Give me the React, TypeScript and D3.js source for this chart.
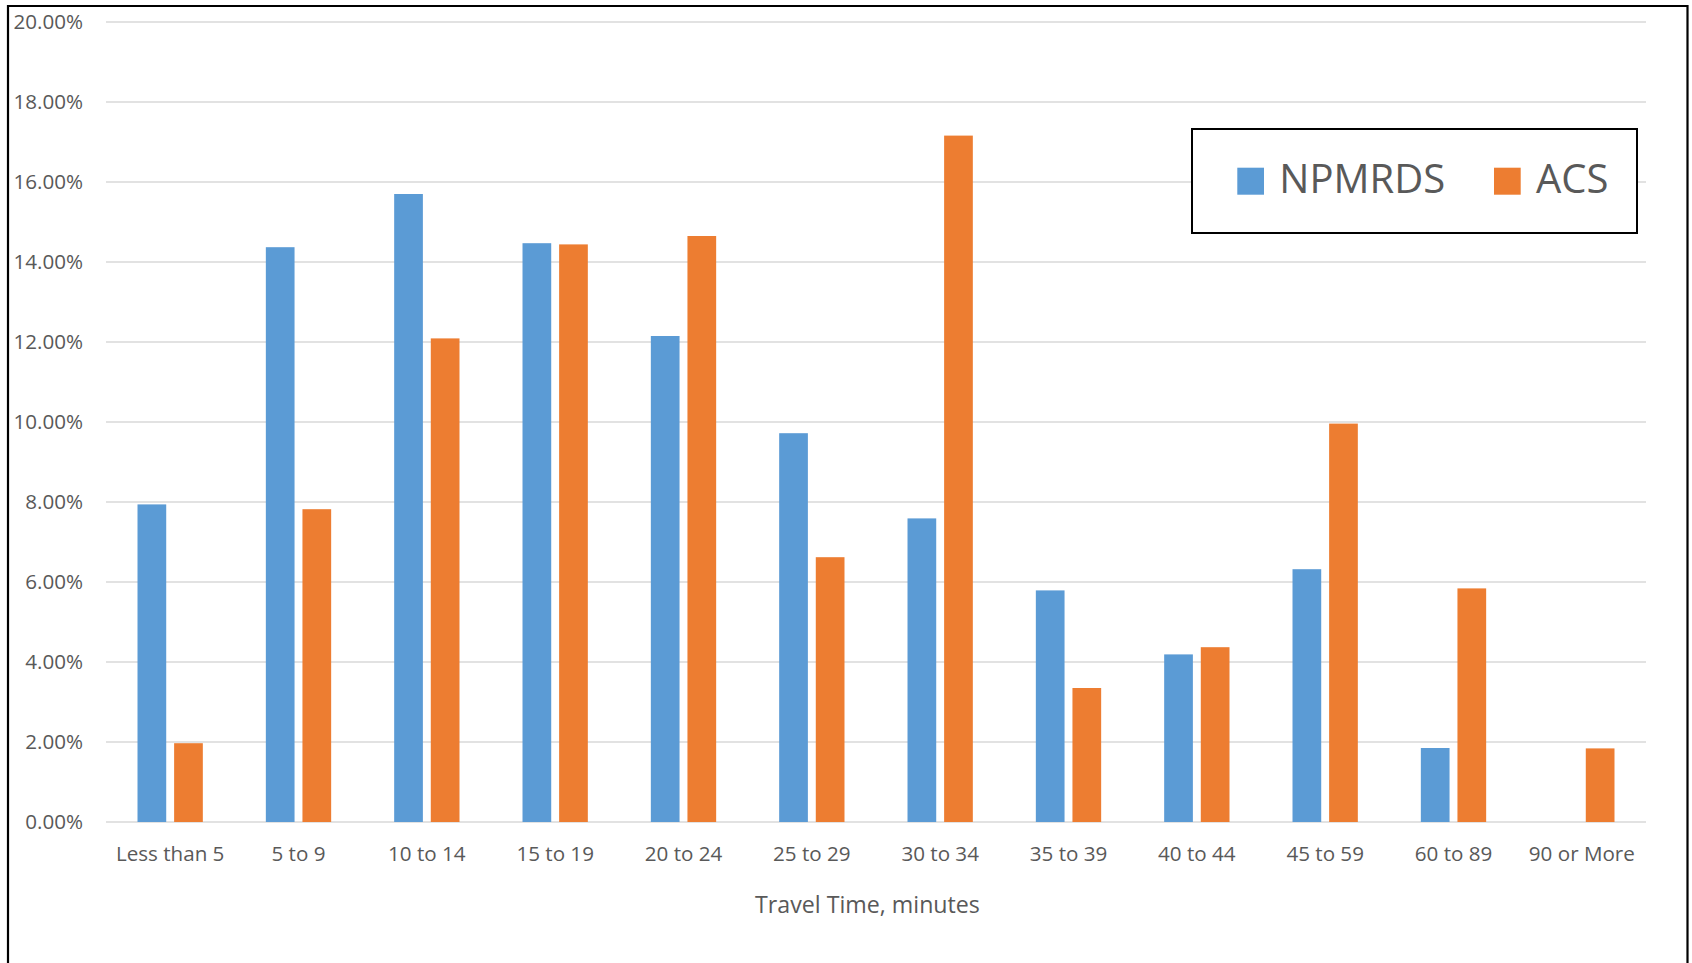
import React from "react";
import * as d3 from "d3";

// Commute travel-time distribution, share of trips per bin
const categories = [
  "Less than 5",
  "5 to 9",
  "10 to 14",
  "15 to 19",
  "20 to 24",
  "25 to 29",
  "30 to 34",
  "35 to 39",
  "40 to 44",
  "45 to 59",
  "60 to 89",
  "90 or More",
];

const npmrdsValues = [
  0.0794, 0.1437, 0.157, 0.1447, 0.1215, 0.0972, 0.0759, 0.0579, 0.0419,
  0.0632, 0.0185, 0,
];

const acsValues = [
  0.0197, 0.0782, 0.1209, 0.1444, 0.1465, 0.0662, 0.1716, 0.0335, 0.0437,
  0.0996, 0.0584, 0.0184,
];

const seriesNames = ["NPMRDS", "ACS"];
const seriesColors = ["#5B9BD5", "#ED7D31"];
const yTicks = [0, 0.02, 0.04, 0.06, 0.08, 0.1, 0.12, 0.14, 0.16, 0.18, 0.2];
const xAxisTitle = "Travel Time, minutes";

const W = 1692;
const H = 963;
const FONT = "'Open Sans', 'Noto Sans', sans-serif";
const TEXT = "#595959";

export default function App() {
  const x = d3
    .scaleBand<string>()
    .domain(categories)
    .range([106, 1646])
    .paddingInner(0)
    .paddingOuter(0);

  const y = d3.scaleLinear().domain([0, 0.2]).range([822, 22]);
  const fmt = d3.format(".2%");

  const bw = x.bandwidth();
  const barW = bw * 0.2237;
  const gap = bw * 0.0616;
  const groupW = barW * 2 + gap;
  const series = [npmrdsValues, acsValues];

  return (
    <svg
      width={W}
      height={H}
      viewBox={`0 0 ${W} ${H}`}
      style={{ position: "absolute", left: 0, top: 0, display: "block", background: "#fff" }}
    >
      <rect x={0} y={0} width={W} height={H} fill="#ffffff" />

      {/* gridlines */}
      {yTicks.map((t) => (
        <line
          key={`g${t}`}
          x1={106}
          x2={1646}
          y1={y(t)}
          y2={y(t)}
          stroke="#d9d9d9"
          strokeWidth={1.6}
        />
      ))}

      {/* y tick labels */}
      {yTicks.map((t) => (
        <text
          key={`yl${t}`}
          x={83}
          y={y(t) + 7.4}
          textAnchor="end"
          fontFamily={FONT}
          fontSize={20.6}
          fill={TEXT}
        >
          {fmt(t)}
        </text>
      ))}

      {/* bars */}
      {series.map((vals, si) =>
        categories.map((c, i) => {
          const v = vals[i];
          if (!v) return null;
          const cx = (x(c) as number) + bw / 2;
          const bx = cx - groupW / 2 + si * (barW + gap);
          return (
            <rect
              key={`b${si}-${i}`}
              x={bx}
              y={y(v)}
              width={barW}
              height={y(0) - y(v)}
              fill={seriesColors[si]}
            />
          );
        })
      )}

      {/* x tick labels */}
      {categories.map((c) => (
        <text
          key={`xl${c}`}
          x={(x(c) as number) + bw / 2}
          y={860.5}
          textAnchor="middle"
          fontFamily={FONT}
          fontSize={20.6}
          fill={TEXT}
        >
          {c}
        </text>
      ))}

      {/* x axis title */}
      <text
        x={867.5}
        y={913}
        textAnchor="middle"
        fontFamily={FONT}
        fontSize={23.2}
        fill={TEXT}
      >
        {xAxisTitle}
      </text>

      {/* legend */}
      <rect
        x={1192}
        y={129}
        width={445}
        height={104}
        fill="#ffffff"
        stroke="#000000"
        strokeWidth={2}
      />
      {[1237.3, 1494].map((lx, si) => (
        <g key={`lg${si}`}>
          <rect x={lx} y={167.7} width={26.7} height={27} fill={seriesColors[si]} />
          <text
            x={lx + 42}
            y={193.3}
            fontFamily={FONT}
            fontSize={40}
            fill={TEXT}
          >
            {seriesNames[si]}
          </text>
        </g>
      ))}

      {/* chart frame */}
      <path
        d={`M8,${H + 5} L8,6 L1687.5,6 L1687.5,${H + 5}`}
        fill="none"
        stroke="#000000"
        strokeWidth={2.2}
      />
    </svg>
  );
}
